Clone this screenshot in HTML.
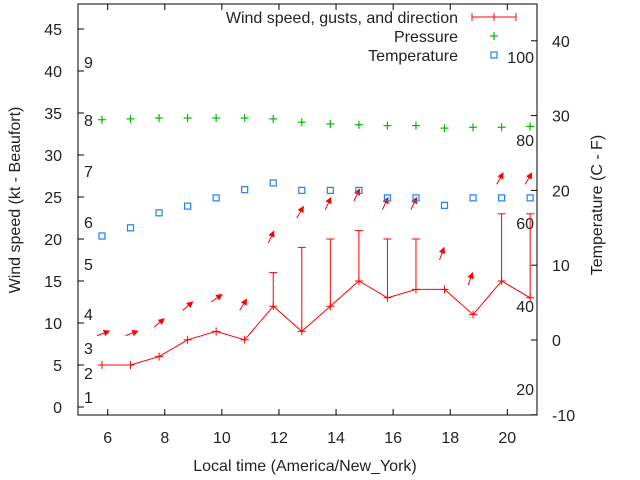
<!DOCTYPE html>
<html><head><meta charset="utf-8"><style>
body{margin:0;background:#fff;}
svg{display:block;font-family:"Liberation Sans",sans-serif;}
</style></head><body>
<svg id="chart" width="640" height="480"></svg>
<script>
const hours=[5.8,6.8,7.8,8.8,9.8,10.8,11.8,12.8,13.8,14.8,15.8,16.8,17.8,18.8,19.8,20.8];
const windSpeed=[5,5,6,8,9,8,12,9,12,15,13,14,14,11,15,13];
const windGust=[5,5,6,8,9,8,16,19,20,21,20,20,14,11,23,23];
const windDir=[70,70,50,50,55,32,25,30,25,25,25,25,20,20,30,30];
const pressure=[34.2,34.3,34.4,34.4,34.4,34.4,34.3,33.9,33.7,33.6,33.5,33.5,33.2,33.3,33.3,33.4];
const temperature=[13.9,15,17,17.9,19,20.1,21,20,20,20,19,19,18,19,19,19];
const xTicks=[6,8,10,12,14,16,18,20];
const yTicks=[0,5,10,15,20,25,30,35,40,45];
const y2Ticks=[-10,0,10,20,30,40];
const beaufort=[[1,397],[2,373],[3,348],[4,314],[5,264],[6,222],[7,171],[8,120],[9,62]];
const fahr=[["100",57],["80",140],["60",223],["40",306],["20",389]];

const L=78,R=537,T=4,B=415;
const X=h=>L+(h-4.96)*(R-L)/(21.04-4.96);
const Y=v=>407-v*8.4;
const Y2=v=>340-v*7.48;
const svg=document.getElementById('chart');
const NS='http://www.w3.org/2000/svg';
function mk(tag,attrs,parent){const e=document.createElementNS(NS,tag);for(const k in attrs)e.setAttribute(k,attrs[k]);(parent||svg).appendChild(e);return e;}
function txt(s,x,y,anchor,extra){const t=mk('text',Object.assign({x:x,y:y,'text-anchor':anchor||'middle','font-size':16,fill:'#222'},extra||{}));t.textContent=s;return t;}

const frame=mk('rect',{x:L,y:T,width:R-L,height:B-T,fill:'none',stroke:'#000','stroke-width':1});



xTicks.forEach(h=>{const x=X(h);
 mk('line',{x1:x,y1:B,x2:x,y2:B-6,stroke:'#000'});
 mk('line',{x1:x,y1:T,x2:x,y2:T+6,stroke:'#000'});
 const t=txt(String(h),x,443,'middle');
 
 
});
yTicks.forEach(v=>{const y=Y(v);
 mk('line',{x1:L,y1:y,x2:L+6,y2:y,stroke:'#000'});
 const t=txt(String(v),62,y+6,'end');
 
 
});
y2Ticks.forEach(v=>{const y=Y2(v);
 mk('line',{x1:R,y1:y,x2:R-6,y2:y,stroke:'#000'});
 const t=txt(String(v),552,y+6,'start');
 
 
});
beaufort.forEach(b=>{const t=txt(String(b[0]),84,b[1]+6,'start');
 
 });
fahr.forEach(f=>{const t=txt(f[0],534,f[1]+6,'end');
 
 });

let t=txt('Local time (America/New_York)',305,471,'middle');

t=txt('Wind speed (kt - Beaufort)',20,200,'middle',{transform:'rotate(-90 20 200)'});

t=txt('Temperature (C - F)',602,205,'middle',{transform:'rotate(-90 602 205)'});


const pts=hours.map((h,i)=>X(h)+','+Y(windSpeed[i])).join(' ');
const wl=mk('polyline',{points:pts,fill:'none',stroke:'#f00','stroke-width':1});


hours.forEach((h,i)=>{const x=X(h),y=Y(windSpeed[i]);
 const g=mk('g',{stroke:'#f00','stroke-width':1});
 
 
 mk('line',{x1:x-4,y1:y,x2:x+4,y2:y},g);mk('line',{x1:x,y1:y-4,x2:x,y2:y+4},g);
 if(windGust[i]>windSpeed[i]){const yg=Y(windGust[i]);
  mk('line',{x1:x,y1:y,x2:x,y2:yg},g);mk('line',{x1:x-4,y1:yg,x2:x+4,y2:yg},g);}
 const a=windDir[i]*Math.PI/180,len=13;
 const tx=x-5,ty=Y(Math.max(windGust[i],windSpeed[i])+3.5);
 const hx=tx+len*Math.sin(a),hy=ty-len*Math.cos(a);
 const ar=mk('g',{stroke:'#f00',fill:'#f00'});
 
 
 mk('line',{x1:tx,y1:ty,x2:hx,y2:hy},ar);
 const ux=Math.sin(a),uy=-Math.cos(a);
 const bx=hx-5*ux,by=hy-5*uy;
 mk('polygon',{points:`${hx},${hy} ${bx+2.5*uy},${by-2.5*ux} ${bx-2.5*uy},${by+2.5*ux}`},ar);
});
hours.forEach((h,i)=>{const x=X(h),y=Y(pressure[i]);
 const g=mk('g',{stroke:'#0b0','stroke-width':1.2});
 
 
 mk('line',{x1:x-4,y1:y,x2:x+4,y2:y},g);mk('line',{x1:x,y1:y-4,x2:x,y2:y+4},g);
});
hours.forEach((h,i)=>{const x=X(h),y=Y2(temperature[i]);
 const r=mk('rect',{x:x-3,y:y-3,width:6,height:6,fill:'none',stroke:'#1e82f0','stroke-width':1.2});
 
 
});
const lg=mk('g',{});


t=txt('Wind speed, gusts, and direction',458,23,'end');
t=txt('Pressure',458,42,'end');
t=txt('Temperature',458,61,'end');
mk('line',{x1:472,y1:17,x2:516,y2:17,stroke:'#f00'},lg);
mk('line',{x1:472,y1:13,x2:472,y2:21,stroke:'#f00'},lg);
mk('line',{x1:494,y1:13,x2:494,y2:21,stroke:'#f00'},lg);
mk('line',{x1:516,y1:13,x2:516,y2:21,stroke:'#f00'},lg);
mk('line',{x1:490,y1:36,x2:498,y2:36,stroke:'#0b0','stroke-width':1.2},lg);
mk('line',{x1:494,y1:32,x2:494,y2:40,stroke:'#0b0','stroke-width':1.2},lg);
mk('rect',{x:491,y:52,width:6,height:6,fill:'none',stroke:'#1e82f0','stroke-width':1.2},lg);
</script>
</body></html>
